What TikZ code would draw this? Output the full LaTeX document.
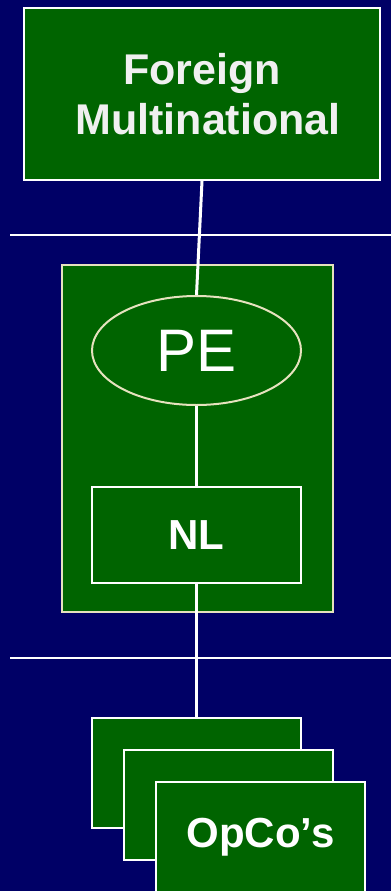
\documentclass[tikz,border=0pt]{standalone}
\usepackage{fontspec}
\setmainfont{Liberation Sans}
\usetikzlibrary{shapes.geometric, positioning}
\definecolor{navy}{HTML}{000066}
\definecolor{boxgreen}{HTML}{006400}
\definecolor{cream}{HTML}{E6E2BE}

\begin{document}
\begin{tikzpicture}[
    x=1pt, y=-1pt, line width=2pt,
    every node/.style={text=white, inner sep=0pt},
    entity/.style={draw=white, fill=boxgreen, minimum width=209pt},
    link/.style={draw=white, line width=3pt}
]
    \fill[navy] (0,0) rectangle (391,891);
    \useasboundingbox (0,0) rectangle (391,891);

    % separators between the levels
    \coordinate (sepA) at (10,235);
    \coordinate (sepB) at (10,658);
    \draw[white] (sepA) -- (391,235);
    \draw[white] (sepB) -- (391,658);

    \node[entity, minimum width=356pt, minimum height=172pt, align=center, text=white!94!black,
          font=\bfseries\fontsize{43}{50}\selectfont] (fm) at (202,94) {Foreign\\\hspace*{0.28em}Multinational};

    \node[draw=cream, fill=boxgreen, minimum width=271pt, minimum height=347pt] (holder) at (197.5,438.5) {};
    \node[ellipse, draw=cream, fill=boxgreen, minimum width=209pt, minimum height=109pt,
          font=\fontsize{60}{60}\selectfont] (pe) at (196.5,350.5) {PE};
    \node[entity, minimum height=96pt, font=\bfseries\fontsize{42}{50}\selectfont] (nl) at (196.5,535) {NL};

    \node[entity, minimum height=110pt] (opco1) at (196.5,773) {};
    \node[entity, minimum height=110pt] (opco2) at (228.5,805) {};
    \node[entity, minimum height=110pt, font=\bfseries\fontsize{42}{50}\selectfont] (opco3) at (260.5,837) {OpCo’s};

    \draw[link] (fm.south) -- (pe.north);
    \draw[link] (pe.south) -- (nl.north);
    \draw[link] (nl.south) -- (opco1.north);
\end{tikzpicture}
\end{document}
